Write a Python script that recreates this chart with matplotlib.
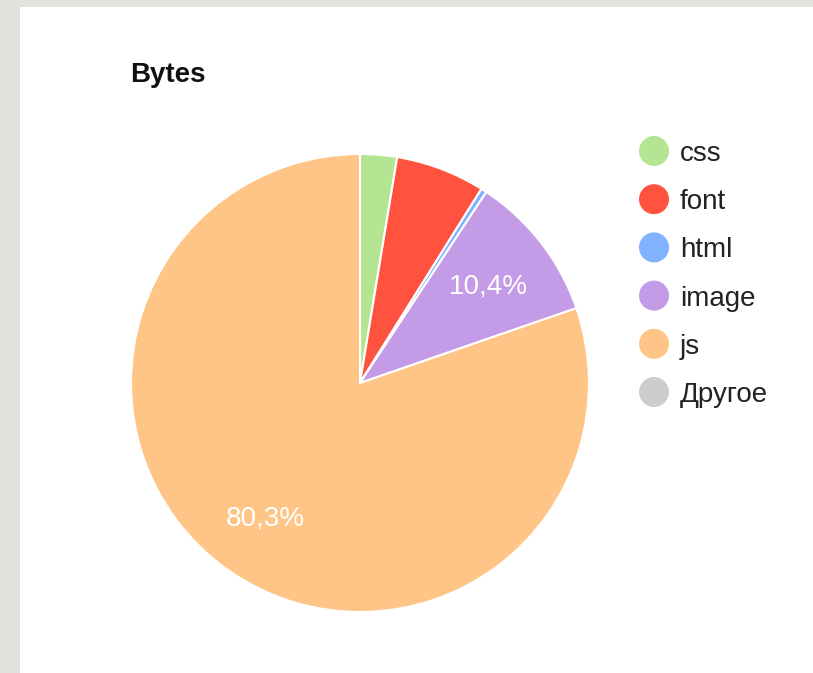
import matplotlib
matplotlib.use("Agg")
import matplotlib.pyplot as plt
from matplotlib.patches import Rectangle

plt.rcParams['font.family'] = ['Liberation Sans', 'DejaVu Sans']

# Data
categories = ["css", "font", "html", "image", "js", "Другое"]
values = [2.6, 6.3, 0.4, 10.4, 80.3, 0.0]
colors = ["#b3e593", "#ff5340", "#7fb2ff", "#c39be6", "#ffc587", "#cccccc"]
title = "Bytes"

W, H = 813, 673
fig = plt.figure(figsize=(W / 100, H / 100), dpi=100)
fig.patch.set_facecolor("#e2e2dc")

# overlay axes in pixel coordinates for card, title and legend
bg = fig.add_axes([0, 0, 1, 1])
bg.set_xlim(0, W)
bg.set_ylim(H, 0)
bg.axis("off")
bg.add_patch(Rectangle((20, 7), W - 20, H - 7, facecolor="white", edgecolor="none"))
bg.text(130, 82, title, fontsize=20, fontweight="bold", color="#111111",
        ha="left", va="baseline")

# legend
for i, (lab, col) in enumerate(zip(categories, colors)):
    y = 151 + i * 48.2
    bg.scatter([654], [y], s=(30 * 0.72) ** 2, color=col, edgecolors="none", zorder=3)
    bg.text(680, y + 10, lab, fontsize=20, color="#222222", ha="left", va="baseline")

# pie
cx, cy, r = 360, 383, 229
ax = fig.add_axes([(cx - r) / W, (H - cy - r) / H, 2 * r / W, 2 * r / H])
ax.set_zorder(2)


def fmt(p):
    if p >= 10:
        return ("%.1f%%" % p).replace(".", ",")
    return ""


wedges, texts, autotexts = ax.pie(
    values, colors=colors, startangle=90, counterclock=False,
    autopct=fmt, pctdistance=0.71, radius=1.0,
    wedgeprops=dict(edgecolor="white", linewidth=1.5),
    textprops=dict(color="white", fontsize=20),
)
for t in autotexts:
    t.set_va("center_baseline")
ax.set_xlim(-1, 1)
ax.set_ylim(-1, 1)
ax.set_aspect("auto")
ax.axis("off")

fig.savefig("out.png", dpi=100, facecolor=fig.get_facecolor())
